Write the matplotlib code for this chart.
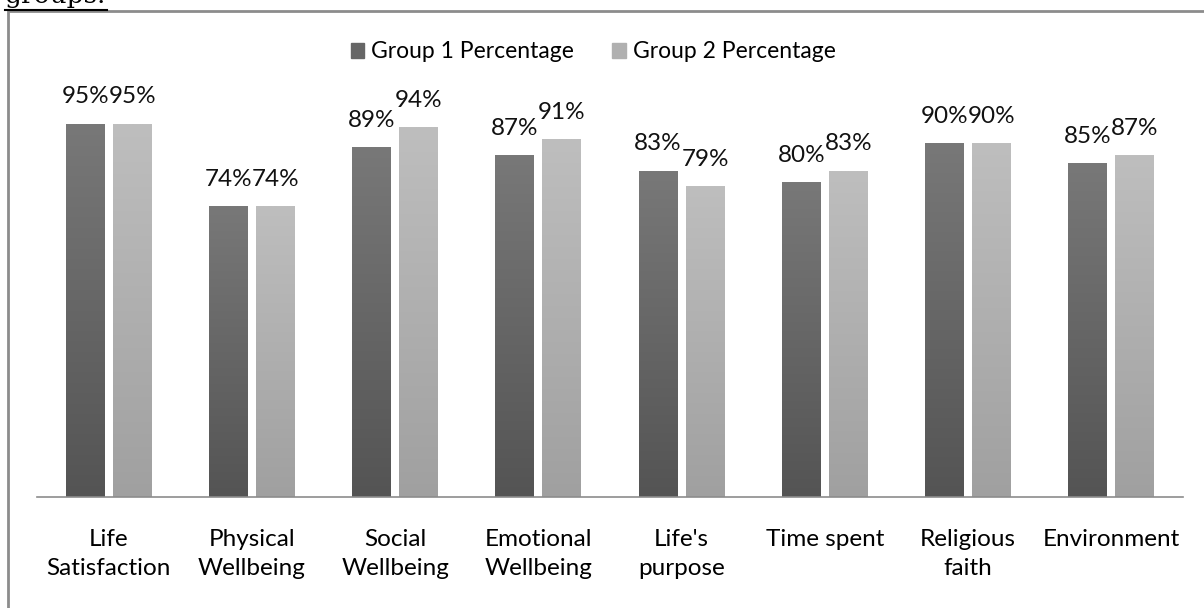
import matplotlib.pyplot as plt
import numpy as np
from matplotlib.colors import LinearSegmentedColormap
from matplotlib.patches import Rectangle
from matplotlib.lines import Line2D

categories = ["Life\nSatisfaction", "Physical\nWellbeing", "Social\nWellbeing", "Emotional\nWellbeing",
              "Life's\npurpose", "Time spent", "Religious\nfaith", "Environment"]
group1 = [95, 74, 89, 87, 83, 80, 90, 85]
group2 = [95, 74, 94, 91, 79, 83, 90, 87]
series_names = ["Group 1 Percentage", "Group 2 Percentage"]

plt.rcParams['font.family'] = ['Lato', 'DejaVu Sans']

fig = plt.figure(figsize=(12.04, 6.08), dpi=100)
ax = fig.add_axes([37/1204, 1-497/608, 1146/1204, (497-104.4)/608])

# gray gradients, lighter at the top
cmap1 = LinearSegmentedColormap.from_list("g1", ["#545454", "#787878"])
cmap2 = LinearSegmentedColormap.from_list("g2", ["#a0a0a0", "#bebebe"])
grad = np.linspace(0, 1, 256).reshape(-1, 1)

x = np.arange(len(categories))
w = 0.272
off = 0.164
for vals, dx, cmap in [(group1, -off, cmap1), (group2, off, cmap2)]:
    for xi, v in zip(x, vals):
        ax.imshow(grad, extent=[xi+dx-w/2, xi+dx+w/2, 0, v], origin='lower',
                  aspect='auto', cmap=cmap, zorder=2)
        ax.annotate(f"{v}%", (xi+dx, v), xytext=(0, 12), textcoords='offset points',
                    ha='center', va='bottom', fontsize=17.5, color='#111111')

ax.set_xlim(-0.5, len(categories)-0.5)
ax.set_ylim(0, 100)
ax.set_xticks(x)
ax.set_xticklabels(categories, fontsize=17.5, linespacing=1.45)
ax.tick_params(axis='x', length=0, pad=23)
ax.set_yticks([])
for s in ax.spines.values():
    s.set_visible(False)
# category axis line
ax.add_line(Line2D([0, 1], [0, 0], transform=ax.transAxes, color="#8c8c8c",
                   linewidth=1.2, clip_on=False, zorder=3))

handles = [Rectangle((0, 0), 1, 1, color="#666666"), Rectangle((0, 0), 1, 1, color="#b0b0b0")]
fig.legend(handles, series_names, loc='center', bbox_to_anchor=(593/1204, 1-52/608), ncol=2,
           frameon=False, fontsize=16.5, handlelength=0.6, handleheight=0.6,
           handletextpad=0.3, columnspacing=1.65)

# frame around the chart
fig.add_artist(Rectangle((8/1204, -0.1), 1.2, 1-11/608+0.1, transform=fig.transFigure,
                         fill=False, edgecolor="#8c8c8c", linewidth=2))

# caption text above the frame, cut off at the top
fig.text(5/1204, 1-3/608, "groups.", family="DejaVu Serif", fontsize=19, va='baseline', ha='left')
fig.add_artist(Line2D([5/1204, 107/1204], [1-9.5/608, 1-9.5/608], transform=fig.transFigure,
                      color='black', linewidth=1.5))

fig.savefig("out.png", dpi=100)
